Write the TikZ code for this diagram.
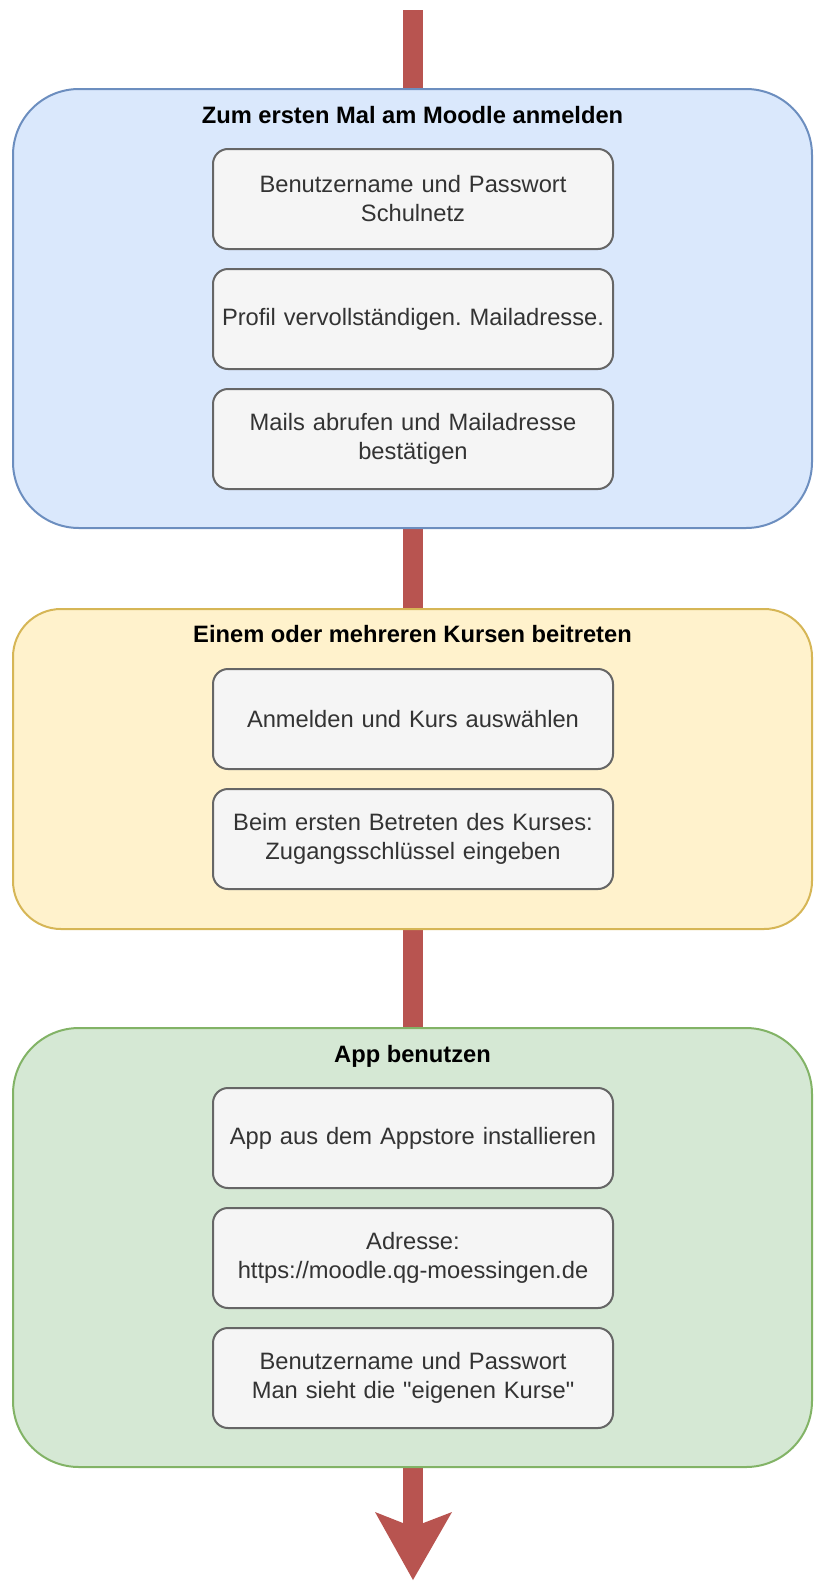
\documentclass[tikz,border=0pt]{standalone}
\usepackage{fontspec}
\setmainfont{Liberation Sans}[Ligatures=TeXOff]
\frenchspacing
\definecolor{flowred}{HTML}{B85450}
\definecolor{bluefill}{HTML}{DAE8FC}
\definecolor{bluedraw}{HTML}{6C8EBF}
\definecolor{yellowfill}{HTML}{FFF2CC}
\definecolor{yellowdraw}{HTML}{D6B656}
\definecolor{greenfill}{HTML}{D5E8D4}
\definecolor{greendraw}{HTML}{82B366}
\definecolor{stepfill}{HTML}{F5F5F5}
\definecolor{stepdraw}{HTML}{666666}
\definecolor{steptext}{HTML}{333333}
\begin{document}
\begin{tikzpicture}[x=1pt,y=-1pt,
  container/.style={draw, line width=2pt, inner sep=0pt, minimum width=799pt},
  titletext/.style={anchor=base, inner sep=0pt, font=\fontsize{23.7pt}{29pt}\selectfont\bfseries, text=black},
  stepbox/.style={draw=stepdraw, fill=stepfill, line width=2pt, rounded corners=15pt,
    minimum width=400pt, minimum height=100pt, inner sep=0pt, align=center, text width=396pt,
    font=\fontsize{23.7pt}{29pt}\selectfont, text=steptext},
  flow/.style={draw=flowred, line width=20pt}
]
\useasboundingbox (0,0) rectangle (819,1582);
% arrow behind the containers
\coordinate (top) at (413,10);
\coordinate (notch) at (413,1527);
\coordinate (tip) at (413,1580);
\coordinate (barbL) at (375,1512);
\coordinate (barbR) at (452,1512);
\draw[flow] (top) -- (notch);
\fill[flowred] (tip) -- (barbL) -- (notch) -- (barbR) -- cycle;

% container 1
\node[container, draw=bluedraw, fill=bluefill, minimum height=439pt, rounded corners=66pt] (c1) at (412.5,308.5) {};
\node[titletext] (t1) at (412.5,123) {Zum ersten Mal am Moodle anmelden};
\node[stepbox] (s11) at (413,199) {Benutzername und Passwort\\Schulnetz};
\node[stepbox] (s12) at (413,319) {Profil vervollständigen. Mailadresse.};
\node[stepbox] (s13) at (413,439) {Mails abrufen und Mailadresse\\bestätigen};

% container 2
\node[container, draw=yellowdraw, fill=yellowfill, minimum height=320pt, rounded corners=48pt] (c2) at (412.5,769) {};
\node[titletext] (t2) at (412.5,642) {Einem oder mehreren Kursen beitreten};
\node[stepbox] (s21) at (413,719) {Anmelden und Kurs auswählen};
\node[stepbox] (s22) at (413,839) {Beim ersten Betreten des Kurses:\\Zugangsschlüssel eingeben};

% container 3
\node[container, draw=greendraw, fill=greenfill, minimum height=439pt, rounded corners=66pt] (c3) at (412.5,1247.5) {};
\node[titletext] (t3) at (412.5,1062) {App benutzen};
\node[stepbox] (s31) at (413,1138) {App aus dem Appstore installieren};
\node[stepbox] (s32) at (413,1258) {Adresse:\\https://moodle.qg-moessingen.de};
\node[stepbox] (s33) at (413,1378) {Benutzername und Passwort\\Man sieht die "eigenen Kurse"};
\end{tikzpicture}
\end{document}
